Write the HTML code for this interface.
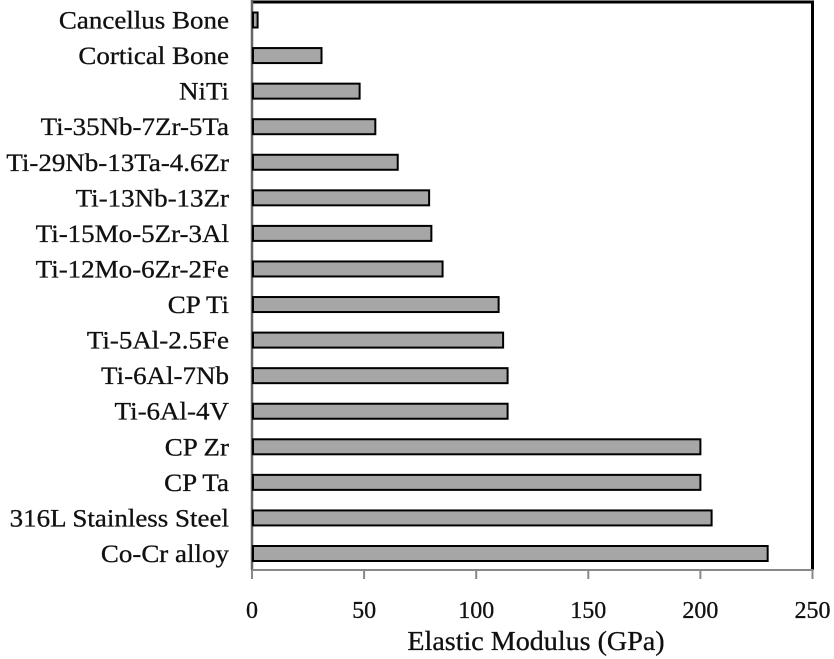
<!DOCTYPE html>
<html><head><meta charset="utf-8"><style>
body{margin:0;background:#fff;}
svg{display:block;font-family:"Liberation Serif",serif;}
text{fill:#111;stroke:#111;stroke-width:0.3;}
</style></head><body>
<svg id="chart" width="834" height="659" viewBox="0 0 834 659" xmlns="http://www.w3.org/2000/svg"></svg>
<script>
const categories=["Cancellus Bone","Cortical Bone","NiTi","Ti-35Nb-7Zr-5Ta","Ti-29Nb-13Ta-4.6Zr","Ti-13Nb-13Zr","Ti-15Mo-5Zr-3Al","Ti-12Mo-6Zr-2Fe","CP Ti","Ti-5Al-2.5Fe","Ti-6Al-7Nb","Ti-6Al-4V","CP Zr","CP Ta ","316L Stainless Steel","Co-Cr alloy"];
const values=[2.5,31,48,55,65,79,80,85,110,112,114,114,200,200,205,230];
const ticks=[0,50,100,150,200,250];
const NS="http://www.w3.org/2000/svg";
const svg=document.getElementById('chart');
const x0=252,x1=812.5,yTop=2,yBot=570;
const band=(553.5-20)/15;
function xs(v){return x0+(v-0)/(250-0)*(x1-x0);}
function yc(i){return 20+i*band;}
function mk(t,a,p){const e=document.createElementNS(NS,t);for(const k in a)e.setAttribute(k,a[k]);(p||svg).appendChild(e);return e;}
const fr=mk('path',{d:`M${x0} ${yTop} H${x1} V${yBot}`,fill:'none',stroke:'#000','stroke-width':3});


const ya=mk('line',{x1:x0,y1:0,x2:x0,y2:yBot,stroke:'#666','stroke-width':2.5});


const xa=mk('line',{x1:x0,y1:yBot,x2:x1+1,y2:yBot,stroke:'#888','stroke-width':2});


ticks.forEach(t=>{
  const l=mk('line',{x1:xs(t),y1:yBot,x2:xs(t),y2:yBot+9,stroke:'#888','stroke-width':2});
  
  
  const tx=mk('text',{x:xs(t),y:618,'text-anchor':'middle','font-size':24});
  tx.textContent=t;
  
  
});
categories.forEach((c,i)=>{
  const b=mk('rect',{x:x0+1,y:yc(i)-7.5,width:Math.max(0,xs(values[i])-x0-1),height:15,fill:'#a6a6a6',stroke:'#000','stroke-width':2});
  
  
  const t=mk('text',{x:0,y:0,'text-anchor':'end','font-size':25,transform:`translate(229,${yc(i)+8.5}) scale(1.08,1)`});
  t.textContent=c;
  
  
});
const xt=mk('text',{x:0,y:0,'text-anchor':'middle','font-size':27,transform:'translate(536,650) scale(1.04,1)'});
xt.textContent='Elastic Modulus (GPa)';


</script>
</body></html>
